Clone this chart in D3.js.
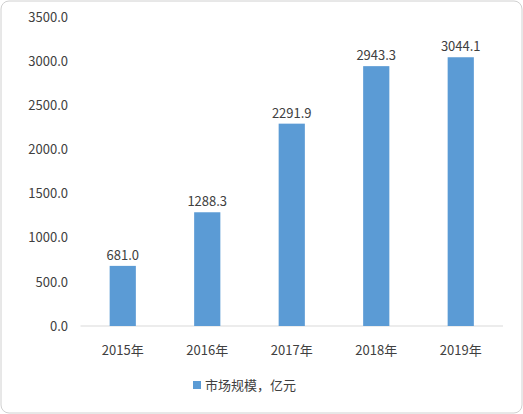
<!DOCTYPE html><html><head><meta charset="utf-8"><script src="https://cdn.jsdelivr.net/npm/d3@7"></script>
<style>body{margin:0;background:#fff}</style></head><body><svg id="c" width="523" height="414"></svg>
<script>
const categories=["2015年","2016年","2017年","2018年","2019年"];
const values=[681.0,1288.3,2291.9,2943.3,3044.1];
const yTicks=[0,500,1000,1500,2000,2500,3000,3500];
const seriesName="市场规模，亿元";
const svg=d3.select("#c");
const font="'Noto Sans CJK SC','Microsoft YaHei',sans-serif";
svg.append("rect").attr("x",1).attr("y",1).attr("width",521).attr("height",412).attr("rx",8).attr("fill","#fff").attr("stroke","#d0d0d0");
const x=d3.scaleBand().domain(categories).range([80.5,503]).paddingInner(0.69).paddingOuter(0.345);
const y=d3.scaleLinear().domain([0,3500]).range([326,17]);
const ya=svg.append("g").attr("transform","translate(72,0)").call(d3.axisLeft(y).tickValues(yTicks).tickFormat(d3.format(".1f")).tickSize(0).tickPadding(4));
ya.select(".domain").remove();
ya.selectAll("text").attr("font-family",font).attr("font-size",13).attr("fill","#404040");
svg.append("line").attr("x1",80.5).attr("x2",503).attr("y1",y(0)).attr("y2",y(0)).attr("stroke","#d9d9d9");
svg.selectAll(".b").data(values).join("rect").attr("x",(d,i)=>x(categories[i])).attr("width",x.bandwidth()).attr("y",d=>y(d)).attr("height",d=>y(0)-y(d)).attr("fill","#5B9BD5");
svg.selectAll(".l").data(values).join("text").attr("x",(d,i)=>x(categories[i])+x.bandwidth()/2).attr("y",d=>y(d)-6).attr("text-anchor","middle").attr("font-family",font).attr("font-size",13).attr("fill","#404040").text(d=>d.toFixed(1));
svg.selectAll(".c").data(categories).join("text").attr("x",d=>x(d)+x.bandwidth()/2).attr("y",355).attr("text-anchor","middle").attr("font-family",font).attr("font-size",13).attr("fill","#404040").text(d=>d);
svg.append("rect").attr("x",193).attr("y",381).attr("width",8).attr("height",8).attr("fill","#5B9BD5");
svg.append("text").attr("x",205).attr("y",390).attr("font-family",font).attr("font-size",13).attr("fill","#404040").text(seriesName);
</script></body></html>
